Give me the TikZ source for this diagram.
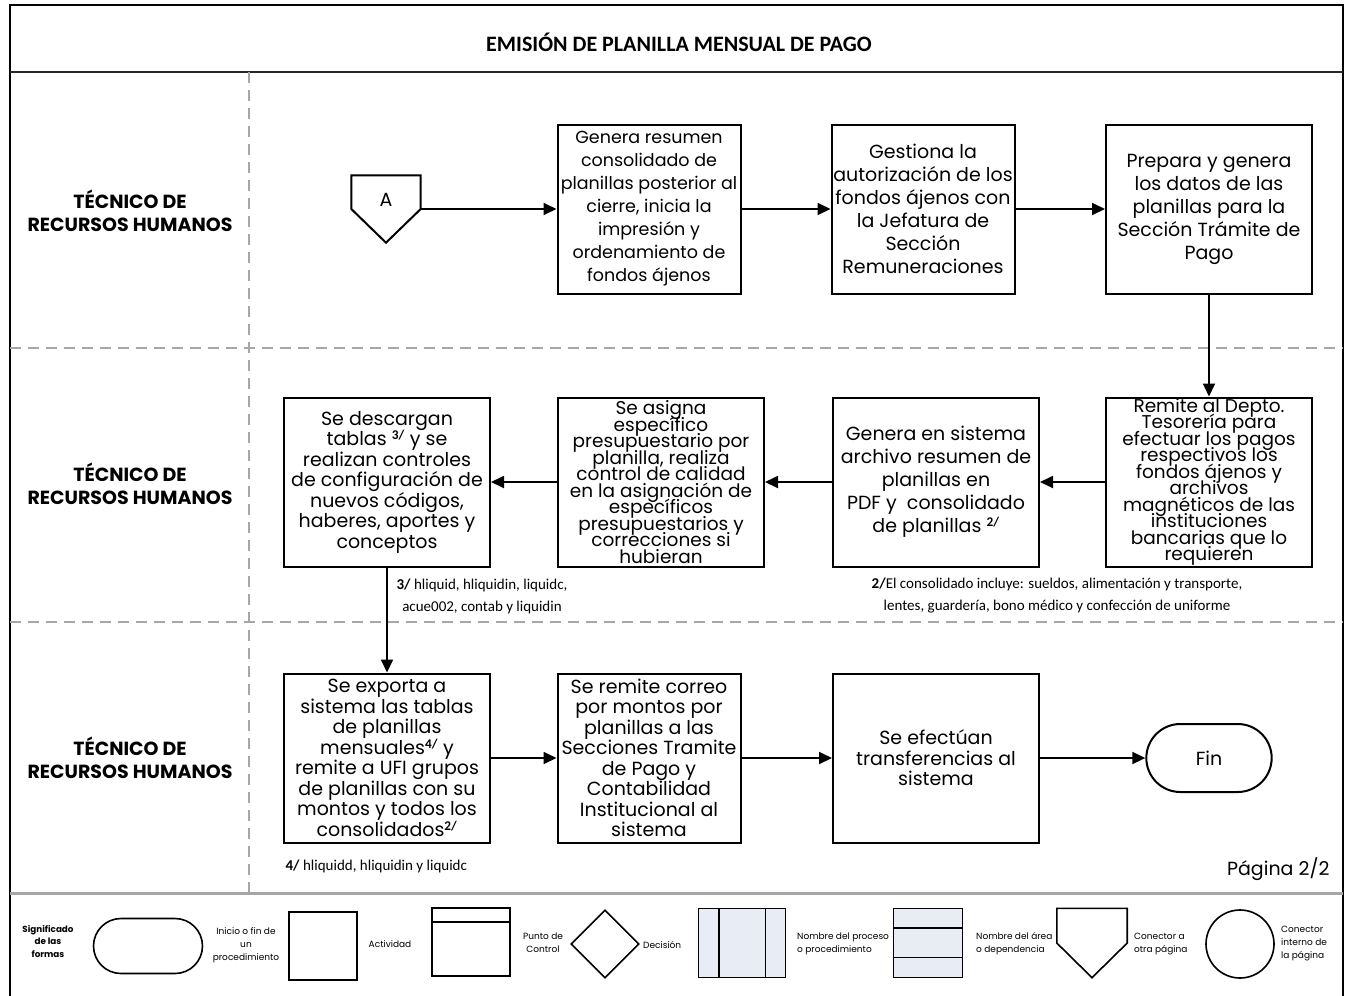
\documentclass[tikz,border=0pt]{standalone}
\usepackage{fontspec}
\setmainfont{Poppins}
\newfontfamily\calfont{Carlito}
\usetikzlibrary{positioning, arrows.meta, shapes.misc, shapes.geometric}
\definecolor{legfill}{HTML}{E8ECF4}
\newcommand{\notaref}[1]{\textsuperscript{\calfont\bfseries #1}}
\newcommand{\nolsk}{\lineskiplimit=-30pt\relax}
\tikzset{
  box/.style={draw, line width=2pt, minimum width=206pt, minimum height=169pt, inner sep=0pt, align=center, font={\fontsize{19}{23}\selectfont\nolsk}},
  nbox/.style={box, minimum width=183pt},
  tight/.style={font={\fontsize{18.5}{16.5}\selectfont\nolsk}},
  mid/.style={font={\fontsize{19}{20.5}\selectfont\nolsk}},
  lane/.style={align=center, font=\bfseries\fontsize{19}{23}\selectfont},
  note/.style={align=center, font=\calfont\fontsize{15}{22}\selectfont},
  flow/.style={-{Triangle[length=13pt,width=12pt]}, line width=1.8pt},
  sep/.style={gray!70, line width=2.5pt, dash pattern=on 11pt off 7pt},
  legtxt/.style={align=center, inner sep=0pt, font=\fontsize{9}{13}\selectfont},
  shp/.style={draw, line width=1.6pt, inner sep=0pt},
  offp/.style={minimum width=69pt, minimum height=67pt, inner sep=0pt},
}

\begin{document}
\begin{tikzpicture}[x=1pt, y=-1pt, on grid]
  \useasboundingbox (0,0) rectangle (1347,996);
  \draw[line width=2pt] (10,996) -- (10,5) -- (1343,5) -- (1343,996);
  \draw[black!85, line width=2.5pt] (10,72) -- (1343,72);
  \draw[sep] (10,348) -- (1343,348);
  \draw[sep] (10,622) -- (1343,622);
  \draw[sep] (249,72) -- (249,893);
  \draw[gray!70, line width=3pt] (10,893) -- (1343,893);

  \node[font=\calfont\bfseries\fontsize{22}{26}\selectfont] (title) at (679,42) {EMISIÓN DE PLANILLA MENSUAL DE PAGO};
  \node[lane] (lane1) at (130,211) {TÉCNICO DE\\RECURSOS HUMANOS};
  \node[lane] (lane2) at (130,484) {TÉCNICO DE\\RECURSOS HUMANOS};
  \node[lane] (lane3) at (130,758) {TÉCNICO DE\\RECURSOS HUMANOS};

  \node[nbox, font={\fontsize{17.5}{23}\selectfont\nolsk}] (gen) at (649,209) {Genera resumen\\consolidado de\\planillas posterior al\\cierre, inicia la\\impresión y\\ordenamiento de\\fondos ájenos};
  \node[offp] (A) [left=263pt of gen] {};
  \draw[line width=2pt] (A.north west) -- (A.north east) -- (A.east) -- (A.south) -- (A.west) -- cycle;
  \node[font=\fontsize{19}{22}\selectfont] (Alab) at ([yshift=9pt]A.center) {A};
  \node[nbox] (ges) [right=274pt of gen] {Gestiona la\\autorización de los\\fondos ájenos con\\la Jefatura de\\Sección\\Remuneraciones};
  \node[box] (prep) [right=286pt of ges] {Prepara y genera\\los datos de las\\planillas para la\\Sección Trámite de\\Pago};

  \node[box, tight] (rem) [below=273pt of prep] {Remite al Depto.\\Tesorería para\\efectuar los pagos\\respectivos los\\fondos ájenos y\\archivos\\magnéticos de las\\instituciones\\bancarias que lo\\requieren};
  \node[box] (pdf) [left=273pt of rem] {Genera en sistema\\archivo resumen de\\planillas en\\PDF y \ consolidado\\de planillas \notaref{2/}};
  \node[box, tight] (asig) [left=275pt of pdf] {Se asigna\\específico\\presupuestario por\\planilla, realiza\\control de calidad\\en la asignación de\\específicos\\presupuestarios y\\correcciones si\\hubieran};
  \node[box, mid] (desc) [left=274pt of asig] {Se descargan\\tablas \notaref{3/} y se\\realizan controles\\de configuración de\\nuevos códigos,\\haberes, aportes y\\conceptos};

  \node[box, mid] (exp) [below=276pt of desc] {Se exporta a\\sistema las tablas\\de planillas\\mensuales\notaref{4/} y\\remite a UFI grupos\\de planillas con su\\montos y todos los\\consolidados\notaref{2/}};
  \node[nbox, mid] (corr) [right=262pt of exp] {Se remite correo\\por montos por\\planillas a las\\Secciones Tramite\\de Pago y\\Contabilidad\\Institucional al\\sistema};
  \node[box, mid] (trans) [right=287pt of corr] {Se efectúan\\transferencias al\\sistema};
  \node[draw, rounded rectangle, line width=2pt, minimum width=132pt, minimum height=68pt, font=\fontsize{19}{22}\selectfont] (fin) [right=273pt of trans] {Fin};

  \draw[flow] (A) -- (gen);
  \draw[flow] (gen) -- (ges);
  \draw[flow] (ges) -- (prep);
  \draw[flow] (prep) -- (rem);
  \draw[flow] (rem) -- (pdf);
  \draw[flow] (pdf) -- (asig);
  \draw[flow] (asig) -- (desc);
  \draw[flow] (desc) -- (exp);
  \draw[flow] (exp) -- (corr);
  \draw[flow] (corr) -- (trans);
  \draw[flow] (trans) -- (fin);

  \node[note] (n3) at (482,596) {\textbf{3/} hliquid, hliquidin, liquidc,\\acue002, contab y liquidin};
  \node[note] (n2) at (1057,596) {\textbf{2/}El consolidado incluye: sueldos, alimentación y transporte,\\lentes, guardería, bono médico y confección de uniforme};
  \node[note, anchor=west] (n4) at (282,866) {\textbf{4/} hliquidd, hliquidin y liquidc};
  \node[font=\fontsize{19}{22}\selectfont, anchor=east] (pag) at (1333,869) {Página 2/2};

  \node[legtxt, font=\bfseries\fontsize{8.8}{12.5}\selectfont] (sig) at (48,941) {Significado\\de las\\formas};
  \node[shp, rounded rectangle, minimum width=109pt, minimum height=55pt] (l1) at (148,946) {};
  \node[legtxt] (t1) at (246,945) {Inicio o fin de\\un\\procedimiento};
  \node[shp, minimum width=68pt, minimum height=68pt] (l2) at (323,946) {};
  \node[legtxt] (t2) at (390,944) {Actividad};
  \node[shp, minimum width=78pt, minimum height=68pt] (l3) at (471,942) {};
  \draw[line width=1.6pt] ([yshift=-15pt]l3.north west) -- ([yshift=-15pt]l3.north east);
  \node[legtxt] (t3) at (543,943) {Punto de\\Control};
  \node[shp, diamond, minimum width=68pt, minimum height=68pt] (l4) at (605,944) {};
  \node[legtxt, anchor=west] (t4) at (643,945) {Decisión};
  \node[shp, fill=legfill, minimum width=87pt, minimum height=69pt] (l5) at (742,943) {};
  \draw[line width=1.6pt] ([xshift=21pt]l5.north west) -- ([xshift=21pt]l5.south west);
  \draw[line width=1.6pt] ([xshift=-21pt]l5.north east) -- ([xshift=-21pt]l5.south east);
  \node[legtxt, anchor=west, align=left] (t5) at (797,944) {Nombre del proceso\\o procedimiento};
  \node[shp, fill=legfill, minimum width=69pt, minimum height=69pt] (l6) at (928,943) {};
  \draw[line width=1.6pt] ([yshift=-20pt]l6.north west) -- ([yshift=-20pt]l6.north east);
  \draw[line width=1.6pt] ([yshift=21pt]l6.south west) -- ([yshift=21pt]l6.south east);
  \node[legtxt, anchor=west, align=left] (t6) at (976,944) {Nombre del área\\o dependencia};
  \node[offp, minimum width=70pt, minimum height=69pt] (l7) at (1092,943) {};
  \draw[line width=1.6pt, fill=white] (l7.north west) -- (l7.north east) -- (l7.east) -- (l7.south) -- (l7.west) -- cycle;
  \node[legtxt, anchor=west, align=left] (t7) at (1134,944) {Conector a\\otra página};
  \node[shp, circle, minimum size=68pt] (l8) at (1240,944) {};
  \node[legtxt, anchor=west, align=left] (t8) at (1281,944) {Conector\\interno de\\la página};
\end{tikzpicture}
\end{document}
